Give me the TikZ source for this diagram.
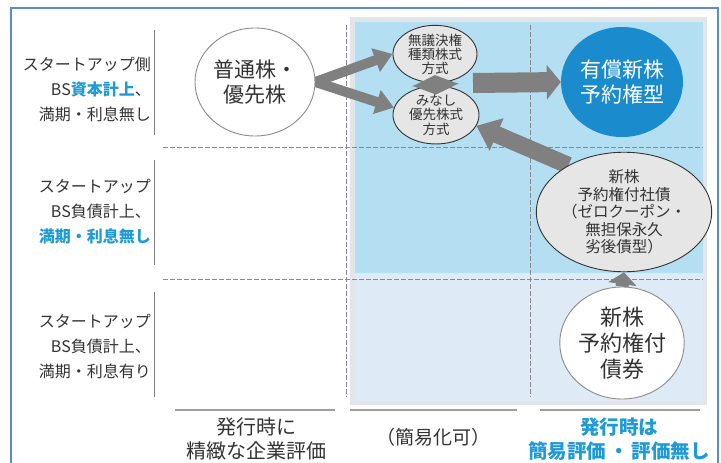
\documentclass[tikz,border=0pt]{standalone}
\usepackage{fontspec}
\setmainfont{Noto Sans CJK JP}
\usetikzlibrary{arrows.meta,shapes.geometric}
\definecolor{frameblue}{HTML}{5A8AD0}
\definecolor{regblue}{HTML}{B4DEF2}
\definecolor{regpale}{HTML}{DEEAF6}
\definecolor{regshadow}{HTML}{E2E6EA}
\definecolor{cblue}{HTML}{1A8CCD}
\definecolor{txtblue}{HTML}{1E9BD7}
\definecolor{txtgray}{HTML}{333333}
\definecolor{agray}{HTML}{808080}
\definecolor{ellgray}{HTML}{8C8C8C}
\definecolor{ellfill}{HTML}{E6E6E6}
\definecolor{gridgray}{HTML}{8A8A8A}
\pgfdeclarelayer{bg}
\pgfdeclarelayer{arr}
\pgfsetlayers{bg,arr,main}
\tikzset{
  lbl/.style={anchor=east, align=right, text=txtgray, inner sep=0pt,
    font=\fontsize{16}{25}\selectfont},
  btm/.style={align=center, text=txtgray, inner sep=0pt,
    font=\fontsize{20}{24}\selectfont},
  bigell/.style={ellipse, inner sep=0pt, align=center, text=txtgray,
    draw=ellgray, line width=0.9pt, fill=white},
  smallell/.style={ellipse, inner sep=0pt, align=center, text=txtgray,
    draw=txtgray, line width=0.9pt, fill=ellfill},
  dashline/.style={gridgray, line width=0.7pt, dash pattern=on 5pt off 2pt},
  solidline/.style={gray, line width=0.8pt},
  baseline/.style={gray!75, line width=1.4pt},
}
\begin{document}
\begin{tikzpicture}[x=1pt,y=-1pt]
\useasboundingbox (0,0) rectangle (721,463);
\begin{pgfonlayer}{bg}
  \fill[white] (0,0) rectangle (721,463);
  % shaded region
  \fill[regshadow] (350,17) rectangle (707,405);
  \fill[regblue] (355,22) rectangle (703,273);
  \fill[regpale] (355,273) rectangle (703,401);
  % grid
  \draw[solidline] (154,30) -- (154,135);
  \draw[solidline] (154,160) -- (154,265);
  \draw[solidline] (154,292) -- (154,397);
  \draw[dashline] (163,147) -- (703,147);
  \draw[dashline] (163,279) -- (703,279);
  \draw[dashline] (346,25) -- (346,397);
  \draw[dashline] (530,25) -- (530,397);
  \draw[baseline] (175,410) -- (335,410);
  \draw[baseline] (350,410) -- (517,410);
  \draw[baseline] (540,410) -- (700,410);
  % frame
  \draw[frameblue, line width=1.2pt] (11,470) -- (11,8) -- (718,8) -- (718,470);
\end{pgfonlayer}

% row labels
\node[lbl] (r1) at (151,89) {スタートアップ側\\BS\textcolor{txtblue}{\bfseries 資本計上}、\\満期・利息無し};
\node[lbl] (r2) at (151,212) {スタートアップ\\BS負債計上、\\\textcolor{txtblue}{\bfseries 満期・利息無し}};
\node[lbl] (r3) at (151,347) {スタートアップ\\BS負債計上、\\満期・利息有り};

% column labels
\node[btm] (c1) at (256,439) {発行時に\\精緻な企業評価};
\node[btm, font=\fontsize{19}{23}\selectfont] (c2) at (433,437) {（簡易化可）};
\node[btm, text=txtblue, font=\fontsize{19.5}{24}\selectfont\bfseries] (c3) at (619,439) {発行時は\\簡易評価\,・\,評価無し};

% ellipses
\node[bigell, minimum width=120pt, minimum height=108pt,
  font=\fontsize{21}{25}\selectfont] (pf) at (255,82) {普通株・\\優先株};
\node[smallell, minimum width=84pt, minimum height=52pt,
  font=\fontsize{13.5}{14}\selectfont] (nv) at (435,54) {無議決権\\種類株式\\方式};
\node[smallell, minimum width=86pt, minimum height=56pt,
  font=\fontsize{13.5}{14.5}\selectfont] (mp) at (436,115) {みなし\\優先株式\\方式};
\node[ellipse, inner sep=0pt, align=center, fill=cblue, text=white,
  minimum width=122pt, minimum height=110pt,
  font=\fontsize{21}{25}\selectfont] (yu) at (622,82) {有償新株\\予約権型};
\node[smallell, minimum width=132pt, minimum height=92pt,
  font=\fontsize{15.5}{17.5}\selectfont] (sy) at (624,212)
  {新株\\予約権付社債\\（ゼロクーポン・\\無担保永久\\劣後債型）};
\node[bigell, minimum width=120pt, minimum height=112pt,
  font=\fontsize{22}{26}\selectfont] (sb) at (622,343) {新株\\予約権付\\債券};

% arrows
\coordinate (mid) at (473,83);
\begin{pgfonlayer}{arr}
  \draw[agray, line width=10pt, -{Triangle[width=24pt,length=18pt]}] (pf.east) -- (nv.west);
  \draw[agray, line width=10pt, -{Triangle[width=24pt,length=18pt]}] (pf.east) -- (mp.170);
  \draw[agray, line width=17pt, -{Triangle[width=34pt,length=22pt]}] (sy.140) -- (mp.-15);
  \draw[agray, line width=13pt, -{Triangle[width=28pt,length=12pt]}] (sb.north) -- (sy.south);
\end{pgfonlayer}
\draw[agray, line width=20pt, -{Triangle[width=34pt,length=14pt]}] (mid) -- (yu.west);
\draw[agray, line width=14pt, {Triangle[width=46pt,length=10pt]}-{Triangle[width=46pt,length=10pt]}]
  ([yshift=-9pt]mp.north) -- ([yshift=8pt]nv.south);
\end{tikzpicture}
\end{document}
